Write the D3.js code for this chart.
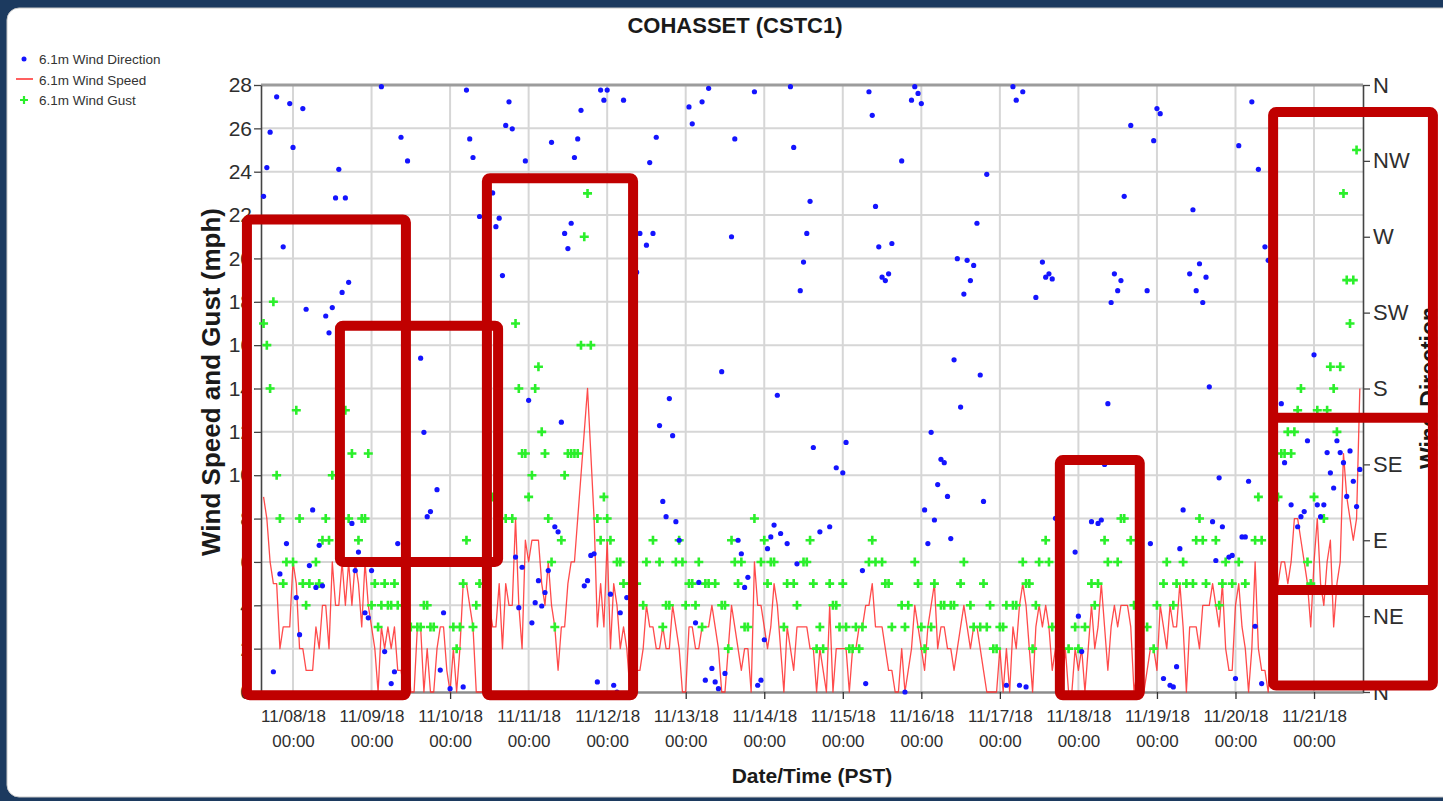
<!DOCTYPE html>
<html>
<head>
<meta charset="utf-8">
<script src="https://cdn.jsdelivr.net/npm/d3@7"></script>
<style>
  html, body { margin: 0; padding: 0; background: #1c3a5f; overflow: hidden; }
  svg { display: block; }
  text { font-family: "Liberation Sans", Arial, "DejaVu Sans", sans-serif; }
</style>
</head>
<body>
<svg id="chart" width="1443" height="801"></svg>
<script>
// Hourly observations, first reading 11/07/18 15:00 PST
const firstObservation = "2018-11-07T15:00:00Z";

// 6.1m wind speed (mph), one value per hour
const windSpeed = [
  9,8,6,5,5,2,3,3,3,6,5,2,
  2,1,1,1,3,2,4,4,2,6,4,4,
  6,4,6,4,6,5,3,6,4,3,2,0,
  3,2,3,2,3,1,1,0,2,0,0,3,
  3,0,2,0,0,2,3,3,1,0,2,0,
  2,5,5,4,3,0,0,0,2,4,3,3,
  5,2,5,4,4,8,4,2,7,6,7,7,
  7,5,4,6,4,3,1,3,3,5,6,6,
  8,10,12,14,11,8,3,5,3,7,2,5,
  4,2,3,2,0,2,1,1,2,4,3,3,
  2,2,3,2,2,4,3,2,0,0,3,3,
  2,2,3,3,3,4,3,2,0,0,2,4,
  3,2,1,2,2,0,6,4,4,3,2,3,
  5,4,2,0,3,2,1,3,3,3,3,2,
  2,0,2,1,0,4,0,2,2,2,2,0,
  2,2,3,3,4,4,5,3,3,3,2,1,
  1,0,0,2,0,1,2,4,3,2,1,3,
  4,5,2,3,3,2,2,1,2,3,4,3,
  2,3,3,2,1,0,0,0,0,2,0,2,
  0,3,2,4,5,4,2,0,3,4,3,4,
  3,1,2,1,0,2,0,0,2,1,2,0,
  2,4,2,3,5,3,1,3,4,3,4,4,
  4,3,0,1,2,0,1,2,2,1,4,3,
  2,4,3,3,5,3,0,3,3,3,2,4,
  4,4,5,4,3,5,2,1,1,4,5,3,
  2,0,2,6,2,1,1,0,2,4,5,6,
  6,5,6,8,8,7,6,5,3,6,8,5,
  4,6,7,3,5,6,11,9,8,7,8,14
];

// 6.1m wind gust (mph), null where no gust was reported
const windGust = [
  17,16,14,18,10,8,5,6,null,6,13,8,
  5,4,5,null,6,5,7,8,7,10,null,null,
  null,13,8,11,null,7,8,8,11,4,5,3,
  4,5,4,4,5,4,null,4,null,3,null,3,
  3,4,4,3,3,null,null,null,null,null,3,2,
  3,5,7,null,3,4,5,null,null,null,9,null,
  null,null,8,null,8,17,14,11,11,9,10,14,
  15,12,11,8,6,3,null,7,10,11,11,11,
  11,16,21,23,16,null,8,7,9,8,7,null,
  6,6,5,null,5,null,5,null,4,6,null,7,
  null,6,3,4,4,null,6,7,6,4,5,5,
  4,6,3,5,5,null,5,null,4,4,2,7,
  6,5,6,3,3,null,8,null,6,7,5,6,
  6,null,null,3,5,null,5,4,null,6,6,7,
  5,2,3,2,null,5,4,4,3,5,3,2,
  2,3,2,3,null,6,7,6,null,6,5,5,
  3,null,null,4,3,4,null,6,5,3,2,null,
  3,5,null,4,4,null,4,4,null,5,6,null,
  4,3,null,3,5,3,4,2,2,3,3,4,
  null,4,4,null,6,5,5,2,4,6,null,7,
  6,3,null,null,null,null,2,null,3,2,null,3,
  null,5,4,5,null,7,6,null,null,6,8,8,
  null,7,4,null,null,null,3,null,2,4,null,5,
  6,null,4,5,null,6,5,null,5,7,8,7,
  5,null,null,7,4,5,6,null,5,null,6,null,
  5,null,null,7,9,7,null,null,null,null,9,11,
  11,12,11,12,13,14,null,6,5,9,13,null,
  8,13,15,14,12,15,23,19,17,19,25,null
];

// 6.1m wind direction (degrees from north), null where missing
const windDirection = [
  294,311,332,12,353,70,264,88,349,323,56,34,
  346,227,75,108,62,87,63,223,213,228,293,310,
  237,293,243,100,72,83,null,47,44,72,null,null,
  359,24,null,5,12,88,329,null,315,null,null,null,
  198,154,104,107,null,120,13,47,null,2,null,null,
  null,3,357,328,317,null,282,null,null,null,296,276,
  281,247,336,350,334,80,50,74,315,173,41,53,
  66,51,59,72,326,98,95,160,272,263,278,317,
  328,345,63,66,81,82,6,357,351,357,58,4,
  0,47,351,56,null,null,249,272,null,265,314,272,
  329,158,113,104,174,152,101,90,null,null,347,337,
  41,65,350,7,358,14,6,2,190,11,null,270,
  328,90,82,62,68,null,356,4,7,31,85,92,
  99,176,94,null,88,359,323,76,238,255,272,291,
  145,null,95,null,null,98,null,133,null,130,148,null,
  null,null,null,72,5,356,342,288,264,246,244,248,
  266,null,null,315,0,null,351,359,355,349,108,88,
  154,102,123,138,136,116,91,197,257,169,236,256,
  244,253,278,188,113,307,null,null,null,null,null,4,
  null,359,351,4,356,3,null,null,234,null,255,246,
  248,245,103,null,null,null,null,null,83,45,24,null,
  null,101,null,100,102,135,171,231,248,238,244,294,
  null,336,null,null,null,null,238,88,327,346,343,8,
  null,4,3,15,85,108,null,248,286,238,254,231,
  246,181,101,78,127,98,null,80,81,8,324,92,
  92,125,350,39,310,5,264,256,null,null,null,171,
  136,null,111,null,98,104,107,149,null,200,111,104,
  111,142,130,121,149,142,136,116,143,125,110,132
];

// Axis ticks
const speedTicks = d3.range(0, 29, 2);
const compassDegrees = [0, 45, 90, 135, 180, 225, 270, 315, 360];
const compassLabels = ["N", "NE", "E", "SE", "S", "SW", "W", "NW", "N"];

// Series legend
const legendLabels = ["6.1m Wind Direction", "6.1m Wind Speed", "6.1m Wind Gust"];

// Highlighted periods, in time and mph
const highlightBoxes = [
  { from: "2018-11-07T09:55:00Z", to: "2018-11-09T10:30:00Z", top: 21.8, bottom: -0.15, splits: [] },
  { from: "2018-11-08T14:20:00Z", to: "2018-11-10T14:40:00Z", top: 16.9, bottom: 6.0, splits: [] },
  { from: "2018-11-10T11:15:00Z", to: "2018-11-12T07:55:00Z", top: 23.7, bottom: -0.15, splits: [] },
  { from: "2018-11-17T18:20:00Z", to: "2018-11-18T18:45:00Z", top: 10.7, bottom: -0.15, splits: [] },
  { from: "2018-11-20T11:30:00Z", to: "2018-11-22T12:20:00Z", top: 26.75, bottom: 0.3, splits: [12.65, 4.7] }
];

// ---------------------------------------------------------------------------
const W = 1443, H = 801;
const plot = { left: 261, right: 1363, top: 85, bottom: 692 };
const svg = d3.select("#chart");

const t0 = new Date(firstObservation);
const hourTime = i => d3.utcHour.offset(t0, i);

const x = d3.scaleUtc()
  .domain([new Date("2018-11-07T14:13:00Z"), new Date("2018-11-21T14:58:00Z")])
  .range([plot.left, plot.right]);
const ySpeed = d3.scaleLinear().domain([0, 28]).range([plot.bottom, plot.top]);
const yDir = d3.scaleLinear().domain([0, 360]).range([plot.bottom, plot.top]);

// Page frame
svg.append("rect").attr("width", W).attr("height", H).attr("fill", "#1c3a5f");
svg.append("rect")
  .attr("x", 7).attr("y", 8).attr("width", W + 20).attr("height", 789)
  .attr("rx", 12).attr("fill", "#ffffff").attr("stroke", "#c8c8c8").attr("stroke-width", 1);

// Grid
const days = d3.utcDay.range(new Date("2018-11-08T00:00:00Z"), new Date("2018-11-22T00:00:00Z"));
svg.append("g").selectAll("line").data(speedTicks.filter(d => d > 0 && d < 28)).join("line")
  .attr("x1", plot.left).attr("x2", plot.right)
  .attr("y1", d => ySpeed(d)).attr("y2", d => ySpeed(d))
  .attr("stroke", "#d6d6d6").attr("stroke-width", 2);
svg.append("g").selectAll("line").data(days).join("line")
  .attr("x1", d => x(d)).attr("x2", d => x(d))
  .attr("y1", plot.top).attr("y2", plot.bottom)
  .attr("stroke", "#d6d6d6").attr("stroke-width", 2);

// Plot frame top
svg.append("line")
  .attr("x1", plot.left).attr("x2", plot.right).attr("y1", plot.top).attr("y2", plot.top)
  .attr("stroke", "#9c9c9c").attr("stroke-width", 3);

// Axes
const tickColor = "#2e2e2e";
const xAxis = svg.append("g").attr("transform", `translate(0,${plot.bottom})`)
  .call(d3.axisBottom(x).tickValues(days).tickSize(7).tickSizeOuter(0));
xAxis.select(".domain").attr("stroke", "#8c8c8c").attr("stroke-width", 2.5);
xAxis.selectAll(".tick line").attr("stroke", "#333").attr("stroke-width", 1.3);
xAxis.selectAll(".tick text").each(function (d) {
  const t = d3.select(this).text("").attr("y", null).attr("dy", null)
    .attr("fill", tickColor).attr("font-size", 17);
  t.append("tspan").attr("x", 0).attr("y", 30).text(d3.utcFormat("%m/%d/%y")(d));
  t.append("tspan").attr("x", 0).attr("y", 55).text(d3.utcFormat("%H:%M")(d));
});

const yAxis = svg.append("g").attr("transform", `translate(${plot.left},0)`)
  .call(d3.axisLeft(ySpeed).tickValues(speedTicks).tickSize(7).tickSizeOuter(0).tickPadding(2));
yAxis.select(".domain").attr("stroke", "#444").attr("stroke-width", 1.6);
yAxis.selectAll(".tick line").attr("stroke", "#444").attr("stroke-width", 1.3);
yAxis.selectAll(".tick text").attr("fill", tickColor).attr("font-size", 21);

const rAxis = svg.append("g").attr("transform", `translate(${plot.right},0)`)
  .call(d3.axisRight(yDir).tickValues(compassDegrees).tickSize(7).tickSizeOuter(0).tickPadding(3)
    .tickFormat((d, i) => compassLabels[i]));
rAxis.select(".domain").attr("stroke", "#444").attr("stroke-width", 1.6);
rAxis.selectAll(".tick line").attr("stroke", "#444").attr("stroke-width", 1.3);
rAxis.selectAll(".tick text").attr("fill", tickColor).attr("font-size", 22);

// Wind speed line
const speedPts = windSpeed.map((v, i) => ({ t: hourTime(i), v }));
svg.append("path")
  .datum(speedPts)
  .attr("fill", "none").attr("stroke", "#ff2b2b").attr("stroke-width", 1.3)
  .attr("stroke-opacity", 0.85).attr("stroke-linejoin", "round")
  .attr("d", d3.line().x(d => x(d.t)).y(d => ySpeed(d.v)));

// Wind gust markers
const plusPath = "M-4.5,0H4.5M0,-4.5V4.5";
const gustPts = windGust.map((v, i) => ({ t: hourTime(i), v })).filter(d => d.v !== null);
svg.append("g").selectAll("path").data(gustPts).join("path")
  .attr("transform", d => `translate(${x(d.t)},${ySpeed(d.v)})`)
  .attr("d", plusPath).attr("stroke", "#2bef2b").attr("stroke-width", 2.6).attr("fill", "none");

// Wind direction dots
const dirPts = windDirection.map((v, i) => ({ t: hourTime(i), v })).filter(d => d.v !== null);
svg.append("g").selectAll("circle").data(dirPts).join("circle")
  .attr("cx", d => x(d.t)).attr("cy", d => yDir(d.v)).attr("r", 2.6)
  .attr("fill", "#1414ff");

// Titles
svg.append("text").attr("x", 735).attr("y", 33).attr("text-anchor", "middle")
  .attr("font-size", 22).attr("font-weight", "bold").attr("fill", "#1a1a1a")
  .text("COHASSET (CSTC1)");
svg.append("text").attr("transform", "translate(220,382) rotate(-90)").attr("text-anchor", "middle")
  .attr("font-size", 26).attr("font-weight", "bold").attr("fill", "#1a1a1a")
  .text("Wind Speed and Gust (mph)");
svg.append("text").attr("transform", "translate(1437,388) rotate(-90)").attr("text-anchor", "middle")
  .attr("font-size", 23).attr("font-weight", "bold").attr("fill", "#1a1a1a")
  .text("Wind Direction");
svg.append("text").attr("x", 812).attr("y", 783).attr("text-anchor", "middle")
  .attr("font-size", 21).attr("font-weight", "bold").attr("fill", "#1a1a1a")
  .text("Date/Time (PST)");

// Legend
const legend = svg.append("g").attr("transform", "translate(16,59)");
legend.append("circle").attr("cx", 8).attr("cy", 0).attr("r", 2.5).attr("fill", "#1414ff");
legend.append("line").attr("x1", 0).attr("x2", 17).attr("y1", 20).attr("y2", 20)
  .attr("stroke", "#ff2b2b").attr("stroke-width", 1.5);
legend.append("path").attr("transform", "translate(8,41)").attr("d", "M-4,0H4M0,-4V4")
  .attr("stroke", "#2bef2b").attr("stroke-width", 2.2);
legend.selectAll("text").data(legendLabels).join("text")
  .attr("x", 23).attr("y", (d, i) => 5 + i * 20.5)
  .attr("font-size", 13.5).attr("fill", "#333")
  .text(d => d);

// Highlighted periods
const hl = svg.append("g").attr("fill", "none").attr("stroke", "#c00000").attr("stroke-width", 10);
highlightBoxes.forEach(b => {
  const x0 = x(new Date(b.from)), x1 = x(new Date(b.to));
  const y0 = ySpeed(b.top), y1 = ySpeed(b.bottom);
  hl.append("rect").attr("x", x0).attr("y", y0).attr("width", x1 - x0).attr("height", y1 - y0).attr("rx", 3);
  b.splits.forEach(s => {
    hl.append("line").attr("x1", x0).attr("x2", x1).attr("y1", ySpeed(s)).attr("y2", ySpeed(s));
  });
});
</script>
</body>
</html>
